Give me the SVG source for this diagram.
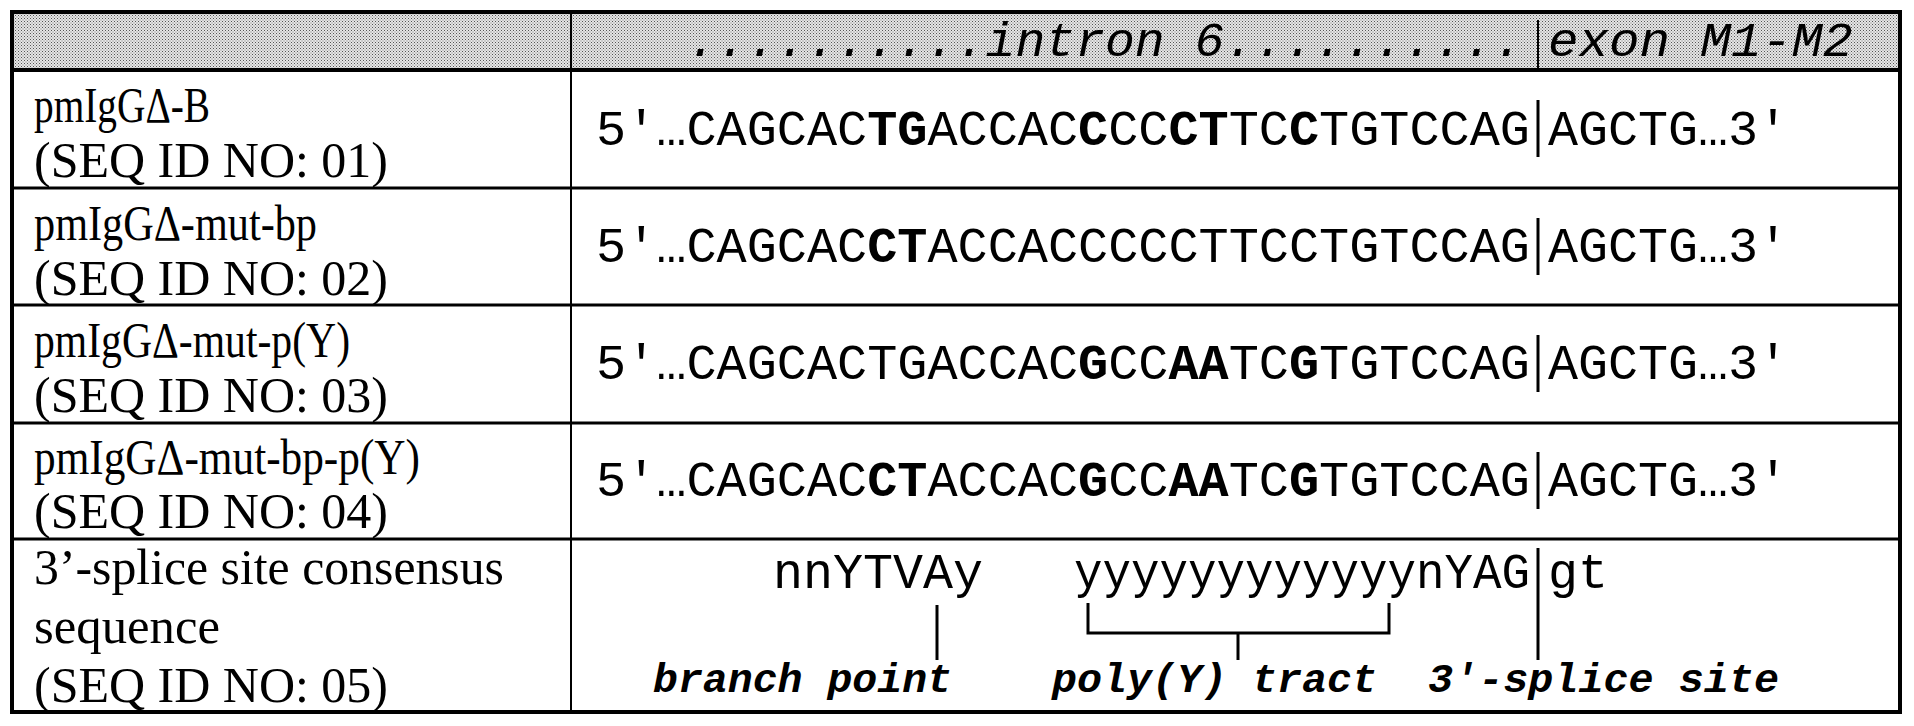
<svg xmlns="http://www.w3.org/2000/svg" width="1914" height="726" viewBox="0 0 1914 726">
<defs>
<pattern id="ht" width="3" height="3" patternUnits="userSpaceOnUse">
<rect width="3" height="3" fill="#e6e6e6"/>
<rect x="0" y="0" width="1" height="1" fill="#555"/>
<rect x="1.5" y="1.5" width="1" height="1" fill="#777"/>
</pattern>
</defs>
<style>
.nm{font-family:"Liberation Serif",serif;font-size:50px;fill:#000}
.sq{font-family:"Liberation Mono",monospace;font-size:50px;fill:#000}
.b{font-weight:bold}
.hd{font-family:"Liberation Mono",monospace;font-size:48px;font-style:italic;fill:#000}
.lb{font-family:"Liberation Mono",monospace;font-size:40px;font-style:italic;font-weight:bold;fill:#000}
.ln{stroke:#000;fill:none}
</style>
<g id="table">
<rect x="12" y="12" width="1888" height="58" fill="url(#ht)"/>
<rect x="12" y="12" width="1888" height="700" class="ln" stroke-width="4"/>
<line x1="12" y1="70" x2="1900" y2="70" class="ln" stroke-width="4"/>
<line x1="12" y1="188" x2="1900" y2="188" class="ln" stroke-width="3"/>
<line x1="12" y1="305" x2="1900" y2="305" class="ln" stroke-width="3"/>
<line x1="12" y1="423" x2="1900" y2="423" class="ln" stroke-width="3"/>
<line x1="12" y1="539" x2="1900" y2="539" class="ln" stroke-width="3"/>
<line x1="571" y1="12" x2="571" y2="712" class="ln" stroke-width="2"/>
</g>
<g id="header">
<text class="hd" x="687" y="56" textLength="836" lengthAdjust="spacingAndGlyphs">..........intron 6..........</text>
<line x1="1538" y1="20" x2="1538" y2="68" class="ln" stroke-width="2"/>
<text class="hd" x="1548" y="56" textLength="305" lengthAdjust="spacingAndGlyphs">exon M1-M2</text>
</g>
<g id="row1">
<text class="nm" x="34" y="122" textLength="176" lengthAdjust="spacingAndGlyphs">pmIgGΔ-B</text>
<text class="nm" x="34" y="177" textLength="354" lengthAdjust="spacingAndGlyphs">(SEQ ID NO: 01)</text>
<text class="sq" x="596" y="145" textLength="934" lengthAdjust="spacingAndGlyphs">5′…CAGCAC<tspan class="b">TG</tspan>ACCAC<tspan class="b">C</tspan>CC<tspan class="b">CT</tspan>TC<tspan class="b">C</tspan>TGTCCAG</text>
<line x1="1538" y1="100" x2="1538" y2="157" class="ln" stroke-width="3"/>
<text class="sq" x="1548" y="145" textLength="240" lengthAdjust="spacingAndGlyphs">AGCTG…3′</text>
</g>
<g id="row2">
<text class="nm" x="34" y="240" textLength="283" lengthAdjust="spacingAndGlyphs">pmIgGΔ-mut-bp</text>
<text class="nm" x="34" y="295" textLength="354" lengthAdjust="spacingAndGlyphs">(SEQ ID NO: 02)</text>
<text class="sq" x="596" y="262" textLength="934" lengthAdjust="spacingAndGlyphs">5′…CAGCAC<tspan class="b">CT</tspan>ACCACCCCCTTCCTGTCCAG</text>
<line x1="1538" y1="218" x2="1538" y2="275" class="ln" stroke-width="3"/>
<text class="sq" x="1548" y="262" textLength="240" lengthAdjust="spacingAndGlyphs">AGCTG…3′</text>
</g>
<g id="row3">
<text class="nm" x="34" y="357" textLength="316" lengthAdjust="spacingAndGlyphs">pmIgGΔ-mut-p(Y)</text>
<text class="nm" x="34" y="412" textLength="354" lengthAdjust="spacingAndGlyphs">(SEQ ID NO: 03)</text>
<text class="sq" x="596" y="379" textLength="934" lengthAdjust="spacingAndGlyphs">5′…CAGCACTGACCAC<tspan class="b">G</tspan>CC<tspan class="b">AA</tspan>TC<tspan class="b">G</tspan>TGTCCAG</text>
<line x1="1538" y1="335" x2="1538" y2="392" class="ln" stroke-width="3"/>
<text class="sq" x="1548" y="379" textLength="240" lengthAdjust="spacingAndGlyphs">AGCTG…3′</text>
</g>
<g id="row4">
<text class="nm" x="34" y="474" textLength="386" lengthAdjust="spacingAndGlyphs">pmIgGΔ-mut-bp-p(Y)</text>
<text class="nm" x="34" y="528" textLength="354" lengthAdjust="spacingAndGlyphs">(SEQ ID NO: 04)</text>
<text class="sq" x="596" y="496" textLength="934" lengthAdjust="spacingAndGlyphs">5′…CAGCAC<tspan class="b">CT</tspan>ACCAC<tspan class="b">G</tspan>CC<tspan class="b">AA</tspan>TC<tspan class="b">G</tspan>TGTCCAG</text>
<line x1="1538" y1="452" x2="1538" y2="509" class="ln" stroke-width="3"/>
<text class="sq" x="1548" y="496" textLength="240" lengthAdjust="spacingAndGlyphs">AGCTG…3′</text>
</g>
<g id="row5">
<text class="nm" x="34" y="584" textLength="470" lengthAdjust="spacingAndGlyphs">3’-splice site consensus</text>
<text class="nm" x="34" y="643" textLength="186" lengthAdjust="spacingAndGlyphs">sequence</text>
<text class="nm" x="34" y="702" textLength="354" lengthAdjust="spacingAndGlyphs">(SEQ ID NO: 05)</text>
<text class="sq" x="773" y="588" textLength="210" lengthAdjust="spacingAndGlyphs">nnYTVAy</text>
<text class="sq" x="1074" y="588" textLength="456" lengthAdjust="spacingAndGlyphs">yyyyyyyyyyyynYAG</text>
<text class="sq" x="1548" y="588" textLength="60" lengthAdjust="spacingAndGlyphs">gt</text>
</g>
<g id="connectors">
<line x1="937" y1="605" x2="937" y2="660" class="ln" stroke-width="3"/>
<polyline points="1088,603 1088,633 1389,633 1389,603" class="ln" stroke-width="3"/>
<line x1="1238" y1="633" x2="1238" y2="660" class="ln" stroke-width="3"/>
<line x1="1538" y1="548" x2="1538" y2="660" class="ln" stroke-width="3"/>
</g>
<g id="labels">
<text class="lb" x="653" y="692" textLength="299" lengthAdjust="spacingAndGlyphs">branch point</text>
<text class="lb" x="1052" y="692" textLength="325" lengthAdjust="spacingAndGlyphs">poly(Y) tract</text>
<text class="lb" x="1428" y="692" textLength="351" lengthAdjust="spacingAndGlyphs">3′-splice site</text>
</g>
</svg>
